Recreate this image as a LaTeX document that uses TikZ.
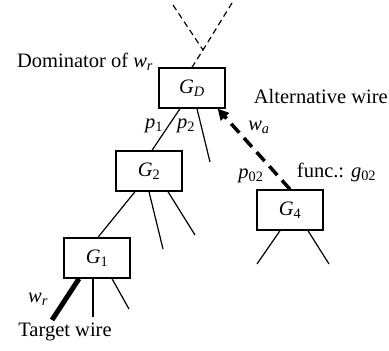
\documentclass[tikz,border=0pt]{standalone}
\usepackage{fontspec}
\setmainfont{Liberation Serif}
\usetikzlibrary{arrows.meta}
\newcommand{\sym}[2]{\textit{#1}\textsubscript{#2}}

\begin{document}
\begin{tikzpicture}[x=1pt,y=-1pt,line width=1.2pt,
  every node/.style={font=\fontsize{20.5}{24}\selectfont},
  gatebox/.style={draw,line width=1.4pt,minimum width=66pt,minimum height=40pt,inner sep=0pt},
  fanin/.style={dash pattern=on 6pt off 4pt},
  altwire/.style={line width=3.5pt,dash pattern=on 12pt off 7pt,-{Triangle[length=11pt,width=11pt]}}]
  \useasboundingbox (0,0) rectangle (389,351);
  % gates
  \node[gatebox] (GD) at (192,88) {\sym{G}{\textit{D}}};
  \node[gatebox] (G2) at (149,171) {\sym{G}{2}};
  \node[gatebox] (G1) at (97,258) {\sym{G}{1}};
  \node[gatebox] (G4) at (290,210) {\sym{G}{4}};
  % fan-in above the dominator
  \coordinate (join) at (203,50);
  \coordinate (inL) at (173,5);
  \coordinate (inR) at (232,3);
  \draw[fanin] (inL) -- (join);
  \draw[fanin] (inR) -- (join) -- (GD.north);
  % free ends of the wires
  \coordinate (p2end) at (210,162);
  \coordinate (g2b) at (163,249);
  \coordinate (g2c) at (195,235);
  \coordinate (wrend) at (52,320);
  \coordinate (g1b) at (93,317);
  \coordinate (g1c) at (129,309);
  \coordinate (g4a) at (257,264);
  \coordinate (g4b) at (329,264);
  % wires
  \draw ([xshift=-12pt]GD.south) -- ([xshift=3pt]G2.north);
  \draw ([xshift=5pt]GD.south) -- (p2end);
  \draw ([xshift=-14pt]G2.south) -- ([xshift=1pt]G1.north);
  \draw (G2.south) -- (g2b);
  \draw ([xshift=19pt]G2.south) -- (g2c);
  \draw[line width=5pt] ([xshift=-18pt]G1.south) -- (wrend);
  \draw ([xshift=-4pt]G1.south) -- (g1b);
  \draw ([xshift=15pt]G1.south) -- (g1c);
  \draw ([xshift=-10pt]G4.south) -- (g4a);
  \draw ([xshift=18pt]G4.south) -- (g4b);
  % alternative wire
  \draw[altwire] (G4.north) -- ([xshift=-8pt]GD.south east);
  % labels
  \node[anchor=base east] (domlbl) at (157,67) {Dominator of \sym{w}{\textit{r}}};
  \node[anchor=base west] (altlbl) at (250,103) {Alternative wire};
  \node (walbl) at (259,127) {\sym{w}{\textit{a}}};
  \node (p1lbl) at (154,126) {\sym{p}{1}};
  \node (p2lbl) at (186,126) {\sym{p}{2}};
  \node (p02lbl) at (251,176) {\sym{p}{02}};
  \node[anchor=base west] (funclbl) at (293,177) {func.: \sym{g}{02}};
  \node (wrlbl) at (38,299) {\sym{w}{\textit{r}}};
  \node (tgtlbl) at (65,332) {Target wire};
\end{tikzpicture}
\end{document}
